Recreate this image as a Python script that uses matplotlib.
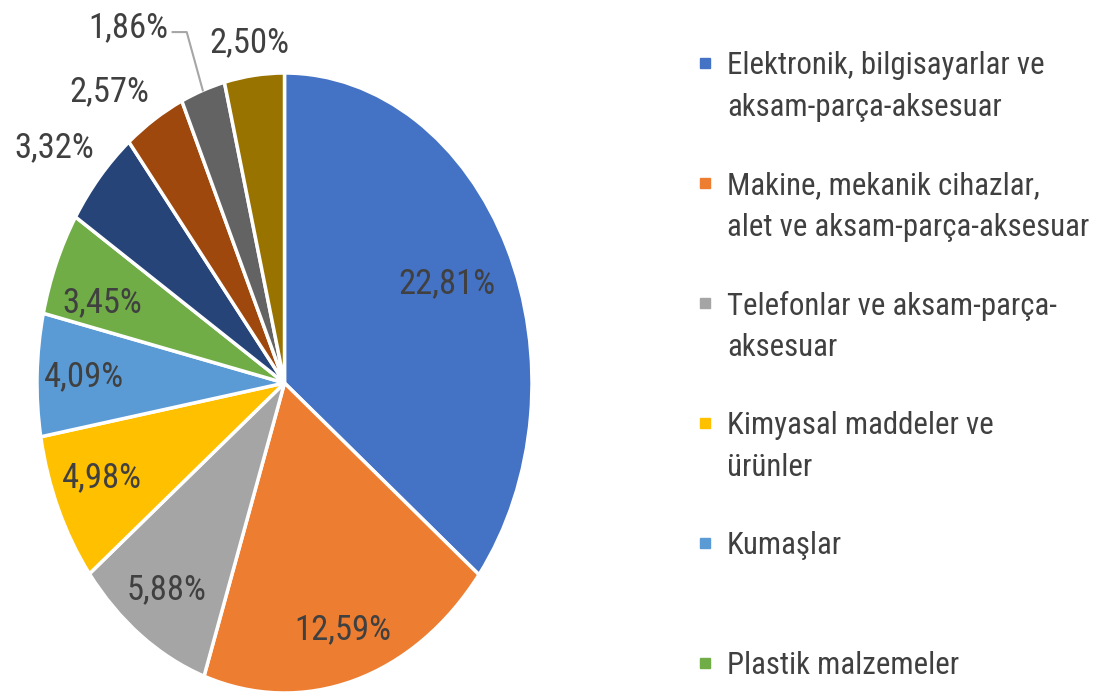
import numpy as np
import matplotlib.pyplot as plt
import matplotlib.patches as mpatches
from matplotlib import font_manager

values = [22.81, 12.59, 5.88, 4.98, 4.09, 3.45, 3.32, 2.57, 1.86, 2.50]
colors = ["#4472C4", "#ED7D31", "#A5A5A5", "#FFC000", "#5B9BD5",
          "#70AD47", "#264478", "#9E480E", "#636363", "#997300"]
legend_labels = [
    "Elektronik, bilgisayarlar ve\naksam-parça-aksesuar",
    "Makine, mekanik cihazlar,\nalet ve aksam-parça-aksesuar",
    "Telefonlar ve aksam-parça-\naksesuar",
    "Kimyasal maddeler ve\nürünler",
    "Kumaşlar",
    "Plastik malzemeler",
]

# label placement: radius and angle nudge (deg) per slice
label_r = [0.73, 0.83, 0.82, 0.80, 0.81, 0.78, 1.20, 1.175, 1.33, 1.106]
label_da = [0, 0, 0, -1.5, 0, 3.4, 2.5, 5.2, 9.2, 0.3]

# pick the narrowest installed family
installed = {f.name for f in font_manager.fontManager.ttflist}
FONT = "DejaVu Sans"
for cand in ["Liberation Sans Narrow", "Roboto Condensed", "Open Sans Condensed", "Lato"]:
    if cand in installed:
        FONT = cand
        break
TXT = "#404040"

fig = plt.figure(figsize=(10.99, 6.98), dpi=100)


def fit_size(s, target):
    t = fig.text(0, 0, s, fontsize=20, family=FONT)
    fig.canvas.draw()
    w = t.get_window_extent().width
    t.remove()
    return 20 * target / w


FS = fit_size("alet ve aksam-parça-aksesuar", 362)
FS_PIE = fit_size("22,81%", 97)

ax = fig.add_axes([37 / 1099, 5 / 698, 495 / 1099, 620 / 698])
wedges, _ = ax.pie(values, colors=colors, startangle=90, counterclock=False,
                   wedgeprops=dict(edgecolor="white", linewidth=2.5))
ax.set_aspect("auto")
ax.set_xlim(-1, 1)
ax.set_ylim(-1, 1)
ax.axis("off")

total = sum(values)
cum = np.cumsum(values) - np.array(values) / 2
for i, v in enumerate(values):
    ang = np.deg2rad(90 - 360 * cum[i] / total + label_da[i])
    r = label_r[i]
    x, y = r * np.cos(ang), r * np.sin(ang)
    txt = f"{v:.2f}%".replace(".", ",")
    ha = "center"
    if i == 8:
        # leader line from slice edge
        a0 = np.deg2rad(90 - 360 * cum[i] / total)
        p0 = (np.cos(a0), np.sin(a0))
        p1 = (-0.395, 1.132)
        p2 = (-0.452, 1.132)
        ax.plot([p0[0], p1[0], p2[0]], [p0[1], p1[1], p2[1]],
                color="#A6A6A6", lw=1.5, clip_on=False)
        x, y = -0.47, 1.145
        ha = "right"
    ax.text(x, y, txt, ha=ha, va="center", fontsize=FS_PIE, color=TXT,
            family=FONT, clip_on=False)

# legend (only the visible part)
y0 = 698 - 63
for i, lab in enumerate(legend_labels):
    yy = (y0 - i * 120) / 698
    fig.patches.append(mpatches.Rectangle((700 / 1099, yy - 5 / 698), 10 / 1099, 10 / 698,
                                          transform=fig.transFigure, color=colors[i]))
    fig.text(727 / 1099, yy, lab.split("\n")[0], ha="left", va="center_baseline",
             fontsize=FS, color=TXT, family=FONT)
    if "\n" in lab:
        fig.text(727 / 1099, yy - 42 / 698, lab.split("\n")[1], ha="left",
                 va="center_baseline", fontsize=FS, color=TXT, family=FONT)

fig.savefig("out.png", dpi=100)
